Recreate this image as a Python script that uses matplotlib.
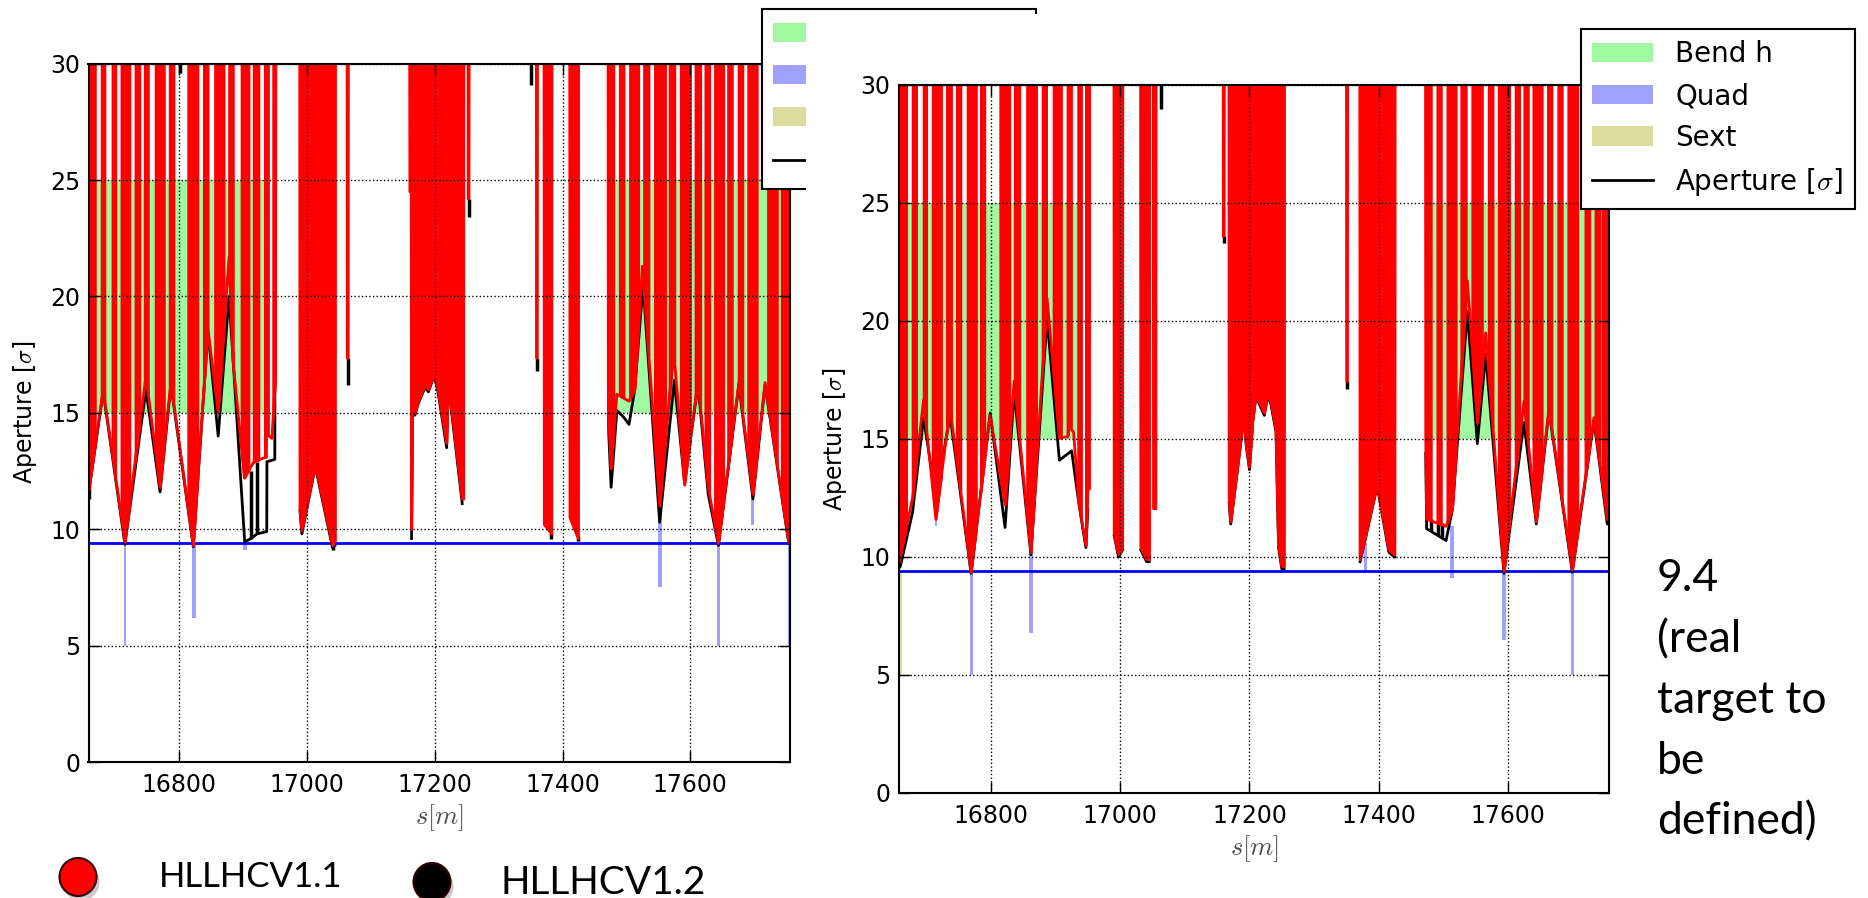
import numpy as np
import matplotlib.pyplot as plt
from matplotlib.patches import Rectangle, Ellipse

plt.rcParams['font.family'] = 'DejaVu Sans'
plt.rcParams['mathtext.fontset'] = 'cm'

target = 9.4

# ---------------- left panel (HLLHCV1.1 layout) ----------------
red_s_l = [16658, 16681, 16715, 16748, 16770, 16787, 16822, 16845, 16861, 16878, 16884, 16902,
           16917, 16936, 16936.5, 16945, 16950.5, 16951,
           16988.6, 16989, 16992, 17013, 17040, 17044, 17044.4,
           17062.8, 17063.2, 17064.4, 17064.8,
           17160.6, 17161, 17163.2, 17163.6, 17165, 17169, 17174, 17185, 17190, 17199, 17205,
           17218.6, 17221, 17243, 17245, 17245.4,
           17252, 17252.3, 17253.5, 17253.8,
           17359, 17359.3, 17360.5, 17360.8,
           17371, 17371.4, 17382.9, 17383.3,
           17411.2, 17411.6, 17424.6, 17425,
           17471.2, 17471.6, 17476, 17485, 17504, 17513, 17525, 17552, 17574, 17591, 17612,
           17628, 17644, 17676, 17698, 17717, 17754, 17756]
red_ap_l = [11.6, 16.0, 9.45, 16.6, 11.8, 16.3, 9.3, 18.6, 15.0, 21.7, 17.3, 12.2,
            12.9, 13.1, 14.1, 13.9, 16.4, 32,
            32, 10.9, 9.95, 12.8, 9.3, 9.5, 32,
            32, 17.35, 17.35, 32,
            32, 24.5, 24.5, 10.0, 15.0, 15.0, 15.5, 16.2, 16.0, 16.7, 16.0,
            13.7, 16.4, 11.3, 11.3, 32,
            32, 24.2, 24.2, 32,
            32, 17.35, 17.35, 32,
            32, 10.2, 9.8, 32,
            32, 10.5, 9.6, 32,
            32, 15.25, 12.6, 15.8, 15.5, 16.0, 21.3, 11.0, 17.7, 11.9, 16.4,
            11.8, 9.4, 16.3, 11.5, 16.3, 9.45, 9.5]

blk_s_l = [16658, 16681, 16715, 16748, 16770, 16787, 16822, 16845, 16861, 16878, 16902.5,
           16912, 16922, 16937, 16937.3, 16949.6, 16949.8, np.nan,
           16989, 16992, 17013, 17040, 17043.5, np.nan,
           17163.6, 17165, 17169, 17174, 17185, 17190, 17199, 17205, 17218.6, 17221, 17243, np.nan,
           17471.8, 17472.3, 17476, 17485, 17496, 17504, 17513, 17526, 17552, 17575, 17591,
           17612, 17628, 17644, 17676, 17698, 17717, 17754, 17756]
blk_ap_l = [11.5, 15.9, 9.35, 16.0, 11.6, 16.2, 9.25, 18.5, 14.0, 20.0, 9.45,
            9.6, 9.8, 9.9, 12.9, 13.0, 16.2, np.nan,
            10.8, 9.8, 12.7, 9.2, 9.3, np.nan,
            9.6, 14.9, 14.9, 15.4, 16.1, 15.9, 16.6, 15.9, 13.5, 16.3, 11.1, np.nan,
            15.2, 14.1, 11.8, 15.1, 14.8, 14.5, 16.0, 20.5, 10.3, 16.4, 12.0,
            16.2, 11.5, 9.3, 16.2, 11.3, 16.2, 9.4, 9.4]

tick_s_l = [16659, 16801, 16912, 16922, 17040, 17064, 17253, 17350, 17360, 17382.5, 17424]
tick_lo_l = [11.3, 29.6, 9.6, 9.8, 9.1, 16.2, 23.4, 29.1, 16.8, 9.6, 9.5]
tick_hi_l = [11.9, 30.0, 12.5, 12.9, 9.6, 17.35, 24.2, 30.0, 17.35, 9.9, 9.7]

strips_l = [(16658, 16668.5), (16678, 16683.5), (16695, 16700.5), (16709, 16722.5),
            (16731, 16738), (16745.5, 16751.5), (16762.5, 16776.5), (16784.5, 16791.5),
            (16813.5, 16829), (16838, 16845), (16855.5, 16870), (16877.5, 16884.5),
            (16897, 16909), (16916, 16924.5), (16933.5, 16939.5), (16946.5, 16951),
            (16989, 17044), (17063.2, 17064.4), (17161, 17245), (17252.3, 17253.5),
            (17359.3, 17360.5), (17371.4, 17382.9), (17411.6, 17424.6),
            (17471.6, 17480), (17489, 17496), (17505, 17519), (17527, 17535),
            (17544, 17561), (17567, 17575.5), (17584.5, 17600), (17607.5, 17616),
            (17623, 17630), (17638, 17652), (17658.5, 17665.5), (17675, 17682),
            (17690, 17704.5), (17721, 17728), (17729.5, 17736), (17742.5, 17756)]

bend_l = [(16663, 16937), (17482, 17756)]

quad_s_l = [16715, 16823, 16903, 17039, 17552.5, 17644, 17697, 17755]
quad_lo_l = [5.0, 6.2, 9.1, 9.3, 7.5, 5.0, 10.2, 5.0]
quad_hi_l = [9.5, 9.4, 9.5, 9.6, 11.0, 9.5, 11.6, 9.5]
quad_w_l = [4, 5, 7, 4, 7, 4, 4, 4]

sext_s_l, sext_lo_l, sext_hi_l = [], [], []

# ---------------- right panel (HLLHCV1.2 layout) ----------------
red_s_r = [16657, 16660, 16679, 16696, 16715, 16737, 16769.5, 16799, 16822, 16836, 16862, 16887,
           16906, 16919, 16921, 16928, 16936, 16947, 16950, 16952.2, 16952.6,
           16990.4, 16990.8, 16997.5, 17003.7, 17004.1,
           17031.6, 17032, 17041, 17045, 17045.4,
           17051.2, 17051.6, 17055.2, 17055.6,
           17159.4, 17159.7, 17160.9, 17161.2,
           17168.2, 17168.6, 17171, 17176, 17181, 17186, 17191, 17195, 17200, 17205, 17210,
           17215, 17223, 17228, 17233, 17241, 17245, 17250, 17253.6, 17254,
           17350, 17350.3, 17351.5, 17351.8,
           17370.6, 17371, 17379.5, 17397.5, 17415.6, 17424.6, 17425,
           17472.2, 17472.6, 17474, 17504, 17513.8, 17537, 17552.4, 17565.3, 17593.6,
           17624.5, 17643.6, 17663.2, 17699.3, 17732.7, 17753.3, 17756]
red_ap_r = [9.7, 10.0, 12.5, 16.65, 11.6, 16.3, 9.35, 16.0, 12.2, 17.45, 10.2, 20.96,
            15.04, 15.1, 15.5, 15.3, 12.3, 10.5, 12.9, 12.9, 32,
            32, 11.0, 10.1, 10.4, 32,
            32, 10.4, 9.9, 9.9, 32,
            32, 12.05, 12.05, 32,
            32, 23.6, 23.6, 32,
            32, 12.5, 11.5, 12.6, 13.7, 14.8, 16.1, 14.8, 13.8, 15.8, 16.9,
            16.6, 16.1, 16.9, 16.6, 15.4, 10.5, 9.6, 9.6, 32,
            32, 17.45, 17.45, 32,
            32, 9.9, 10.9, 13.1, 10.3, 10.1, 32,
            32, 15.1, 11.6, 11.3, 12.05, 21.7, 15.7, 19.5, 9.4,
            16.6, 11.5, 16.3, 9.45, 15.9, 11.6, 11.6]

blk_s_r = [16657, 16660, 16679, 16696, 16715, 16737, 16769.5, 16799, 16822, 16836, 16862, 16887,
           16906, 16925, 16936, 16947, 16950, np.nan,
           16990.8, 16997.5, 17003.7, np.nan,
           17032, 17041, 17045, np.nan,
           17168.6, 17171, 17176, 17181, 17186, 17191, 17195, 17200, 17205, 17210,
           17215, 17223, 17228, 17233, 17241, 17245, 17250, 17253.6, np.nan,
           17371, 17379.5, 17397.5, 17415.6, 17424.6, np.nan,
           17472.6, 17474, 17504, 17513.8, 17537, 17552.4, 17565.3, 17593.6,
           17624.5, 17643.6, 17663.2, 17699.3, 17732.7, 17753.3, 17756]
blk_ap_r = [9.5, 9.6, 11.9, 15.9, 12.5, 16.0, 9.3, 16.1, 11.25, 17.0, 10.1, 20.1,
            14.1, 14.5, 12.3, 10.4, 12.0, np.nan,
            10.9, 10.0, 10.3, np.nan,
            10.3, 9.8, 9.8, np.nan,
            12.3, 11.4, 12.5, 13.6, 14.7, 16.0, 14.7, 13.7, 15.7, 16.8,
            16.5, 16.0, 16.8, 16.5, 15.3, 10.4, 9.5, 9.5, np.nan,
            9.8, 10.8, 13.0, 10.2, 10.0, np.nan,
            14.4, 11.2, 10.7, 12.0, 20.4, 14.8, 18.6, 9.3,
            15.7, 11.4, 16.2, 9.35, 15.8, 11.4, 11.4]

tick_s_r = [17063, 17160.3, 17351, 17480, 17491, 17497]
tick_lo_r = [29.0, 23.3, 17.1, 11.1, 10.95, 10.85]
tick_hi_r = [30.0, 23.6, 17.45, 11.6, 11.5, 11.45]

strips_r = [(16657, 16669.5), (16678.5, 16685), (16695.5, 16700.5), (16709.5, 16723.5),
            (16731.5, 16739), (16747, 16753.5), (16763.5, 16777.5), (16784, 16790.5),
            (16814, 16829), (16836.5, 16844.5), (16855.5, 16870.5), (16879.5, 16886),
            (16896.5, 16903.5), (16904, 16909), (16918, 16924.5), (16934.5, 16940),
            (16946.5, 16952.2),
            (16990.8, 17003.7), (17032, 17045), (17051.6, 17055.2), (17159.7, 17160.9),
            (17168.6, 17253.6), (17350.3, 17351.5), (17371, 17424.6),
            (17472.6, 17481), (17490, 17496.5), (17505.5, 17519.5), (17527, 17535),
            (17544, 17560), (17569.5, 17576.5), (17585, 17602), (17611, 17617.5),
            (17624.5, 17631), (17638.5, 17652.5), (17661, 17667.5), (17677, 17683.5),
            (17692.5, 17707.5), (17719, 17726), (17734.5, 17742), (17746, 17756)]

bend_r = [(16666, 16937), (17482, 17756)]

quad_s_r = [16715, 16770, 16862, 17379.8, 17512.7, 17593.6, 17699.3]
quad_lo_r = [11.3, 5.0, 6.8, 9.4, 9.1, 6.5, 5.0]
quad_hi_r = [11.8, 9.4, 10.2, 10.6, 11.3, 9.4, 9.45]
quad_w_r = [3, 4, 5, 5, 6, 5, 4]

sext_s_r, sext_lo_r, sext_hi_r = [16661], [5.0], [9.4]


def panel(ax, red_s, red_ap, blk_s, blk_ap, strips, bends, q_s, q_lo, q_hi, q_w,
          x_s, x_lo, x_hi, t_s, t_lo, t_hi):
    for i, (a, b) in enumerate(bends):
        ax.fill_between([a, b], 15, 25, color='#a0f8a0', lw=0, zorder=1,
                        label='Bend h' if i == 0 else None)
    ax.bar(q_s, np.subtract(q_hi, q_lo), bottom=q_lo, width=q_w, color='blue',
           alpha=0.37, lw=0, zorder=1.1, label='Quad')
    # sextupoles (empty fill keeps the legend entry when there are none)
    ax.fill_between([], [], color='#dcdc9c', lw=0, label='Sext')
    for s, lo, hi in zip(x_s, x_lo, x_hi):
        ax.fill_between([s - 2, s + 2], lo, hi, color='#dcdc9c', lw=0, zorder=1.1)
    ax.axhline(target, color='blue', lw=2, zorder=1.2)
    ax.plot(blk_s, blk_ap, color='k', lw=2, zorder=1.3, label='Aperture [$\\sigma$]')
    ax.vlines(t_s, t_lo, t_hi, color='k', lw=2.5, zorder=1.3)
    for a, b in strips:
        xs = np.array([a] + [x for x in red_s if a < x < b] + [b])
        ax.fill_between(xs, np.interp(xs, red_s, red_ap), 30, color='red', lw=1.5, zorder=1.4)
    ax.plot(red_s, red_ap, color='red', lw=2, zorder=1.5)

    ax.set_xlim(16658, 17756)
    ax.set_ylim(0, 30)
    ax.set_xticks([16800, 17000, 17200, 17400, 17600])
    ax.set_yticks([0, 5, 10, 15, 20, 25, 30])
    ax.grid(True, color='k', ls=':', lw=1)
    ax.set_axisbelow(False)
    ax.tick_params(direction='in', length=8, width=1, top=True, right=True, labelsize=17)
    ax.tick_params(axis='x', pad=8)
    ax.tick_params(axis='y', pad=6)
    for sp in ax.spines.values():
        sp.set_linewidth(1.5)
    ax.set_xlabel('$s[m]$', fontsize=19, labelpad=4, color='0.3')
    ax.set_ylabel('Aperture [$\\sigma$]', fontsize=17, labelpad=8)


def add_legend(ax, fig, x0, y0, show_text=True):
    h, l = ax.get_legend_handles_labels()
    order = ['Bend h', 'Quad', 'Sext', 'Aperture [$\\sigma$]']
    hh = [h[l.index(k)] for k in order]
    leg = ax.legend(hh, order, loc='upper left', bbox_to_anchor=(x0, y0),
                    bbox_transform=fig.transFigure, borderaxespad=0, fontsize=20,
                    fancybox=False, edgecolor='k', framealpha=1, handlelength=2.2,
                    handletextpad=0.8, borderpad=0.4, labelspacing=0.5)
    leg.get_frame().set_linewidth(1.5)
    leg.set_zorder(5)
    if not show_text:
        # these labels are hidden under the second plot in the original
        for t in leg.get_texts():
            t.set_visible(False)


fig = plt.figure(figsize=(18.68, 8.98), dpi=100)
W, H = 1868, 898

ax1 = fig.add_axes([88.5 / W, 1 - 762 / H, 701.5 / W, 698.4 / H])
panel(ax1, red_s_l, red_ap_l, blk_s_l, blk_ap_l, strips_l, bend_l,
      quad_s_l, quad_lo_l, quad_hi_l, quad_w_l, sext_s_l, sext_lo_l, sext_hi_l,
      tick_s_l, tick_lo_l, tick_hi_l)
add_legend(ax1, fig, 762 / W, 1 - 9.3 / H, show_text=False)

# the second plot sits on top of the first one's legend
fig.add_artist(Rectangle((806 / W, 0), 1, 1 - 14 / H, transform=fig.transFigure,
                         facecolor='white', edgecolor='none', zorder=2))

ax2 = fig.add_axes([899 / W, 1 - 793 / H, 710 / W, 708 / H])
ax2.set_zorder(3)
panel(ax2, red_s_r, red_ap_r, blk_s_r, blk_ap_r, strips_r, bend_r,
      quad_s_r, quad_lo_r, quad_hi_r, quad_w_r, sext_s_r, sext_lo_r, sext_hi_r,
      tick_s_r, tick_lo_r, tick_hi_r)
add_legend(ax2, fig, 1581 / W, 1 - 29 / H)

fig.text(1657 / W, 1 - 558 / H, '9.4\n(real\ntarget to\nbe\ndefined)', family='Lato',
         fontsize=32, va='top', ha='left', linespacing=1.6, zorder=6)

# version markers at the bottom
for cx, cy, col in [(78, 877, 'red'), (432, 882, 'black')]:
    fig.add_artist(Ellipse(((cx + 3) / W, 1 - (cy + 5) / H), 37 / W, 38 / H,
                           transform=fig.transFigure, facecolor='0.6', alpha=0.5,
                           edgecolor='none', zorder=5))
    fig.add_artist(Ellipse((cx / W, 1 - cy / H), 37 / W, 38 / H, transform=fig.transFigure,
                           facecolor=col, edgecolor='#300000', lw=1.5, zorder=6))
fig.text(159 / W, 1 - 887 / H, 'HLLHCV1.1', family='Lato', fontsize=25, va='baseline', zorder=6)
fig.text(500 / W, 1 - 894 / H, 'HLLHCV1.2', family='Lato', fontsize=28, va='baseline', zorder=6)

fig.savefig('out.png', dpi=100)
